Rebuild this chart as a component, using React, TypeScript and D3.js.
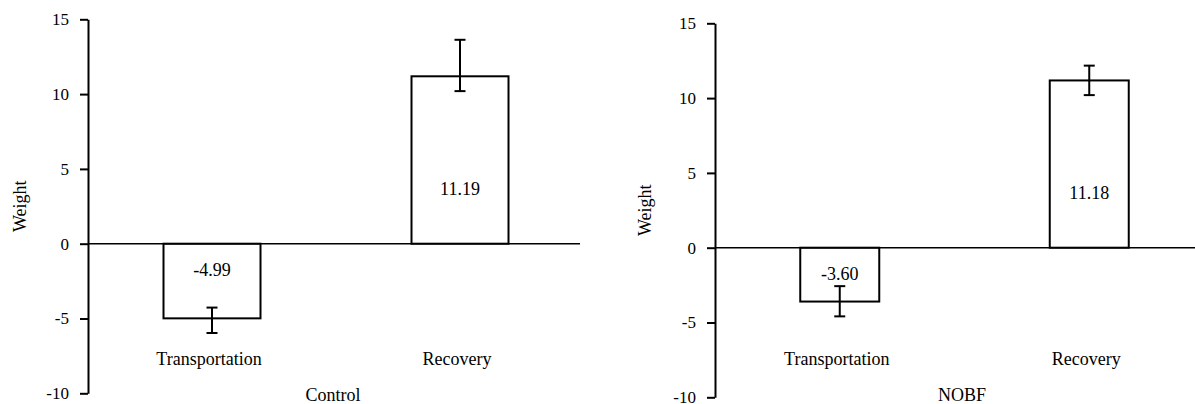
import React, { useRef, useEffect } from 'react';
import * as d3 from 'd3';

const categories = ['Transportation', 'Recovery'];

const controlValues = [-4.99, 11.19];
const controlLow = [-5.97, 10.2];
const controlHigh = [-4.27, 13.63];

const nobfValues = [-3.6, 11.18];
const nobfLow = [-4.59, 10.2];
const nobfHigh = [-2.57, 12.17];

const yTicks = [-10, -5, 0, 5, 10, 15];
const yDomain = [-10, 15];

const panels = [
  {
    title: 'Control',
    values: controlValues,
    low: controlLow,
    high: controlHigh,
    left: 88,
    right: 584,
    zeroEnd: 580,
    top: 19.3,
    bottom: 393.3,
    barWidth: 97,
    catY: 365,
    titleY: 401,
    titleX: 333,
    labelX: 20,
  },
  {
    title: 'NOBF',
    values: nobfValues,
    low: nobfLow,
    high: nobfHigh,
    left: 715,
    right: 1214,
    zeroEnd: 1195,
    top: 23.3,
    bottom: 397.3,
    barWidth: 79,
    catY: 364.5,
    titleY: 401,
    titleX: 962,
    labelX: 645,
  },
];

const FONT = 'Liberation Serif, Times New Roman, DejaVu Serif, serif';

const Chart = () => {
  const ref = useRef(null);

  useEffect(() => {
    const svg = d3.select(ref.current);
    svg.selectAll('*').remove();

    panels.forEach((p) => {
      const x = d3.scalePoint().domain(categories).range([p.left, p.right]).padding(0.5);
      const y = d3.scaleLinear().domain(yDomain).range([p.bottom, p.top]);
      const g = svg.append('g');
      const rows = categories.map((c, i) => ({ c, v: p.values[i], lo: p.low[i], hi: p.high[i] }));

      // bars
      g.selectAll('rect.bar')
        .data(rows)
        .join('rect')
        .attr('x', (d) => x(d.c) - p.barWidth / 2)
        .attr('y', (d) => y(Math.max(0, d.v)))
        .attr('width', p.barWidth)
        .attr('height', (d) => Math.abs(y(d.v) - y(0)))
        .attr('fill', '#fff')
        .attr('stroke', '#000')
        .attr('stroke-width', 2);

      // zero line
      g.append('line')
        .attr('x1', p.left)
        .attr('x2', p.zeroEnd)
        .attr('y1', y(0))
        .attr('y2', y(0))
        .attr('stroke', '#000')
        .attr('stroke-width', 1.6);

      // error bars
      const err = g.selectAll('g.err').data(rows).join('g');
      err.append('line')
        .attr('x1', (d) => x(d.c))
        .attr('x2', (d) => x(d.c))
        .attr('y1', (d) => y(d.lo))
        .attr('y2', (d) => y(d.hi))
        .attr('stroke', '#000')
        .attr('stroke-width', 2);
      ['lo', 'hi'].forEach((k) => {
        err.append('line')
          .attr('x1', (d) => x(d.c) - 5.5)
          .attr('x2', (d) => x(d.c) + 5.5)
          .attr('y1', (d) => y(d[k]))
          .attr('y2', (d) => y(d[k]))
          .attr('stroke', '#000')
          .attr('stroke-width', 2);
      });

      // value labels
      g.selectAll('text.val')
        .data(rows)
        .join('text')
        .attr('x', (d) => x(d.c))
        .attr('y', (d) => (d.v >= 0 ? y(0) - 48.5 : y(0) + 32))
        .attr('text-anchor', 'middle')
        .style('font-family', FONT)
        .style('font-size', '18px')
        .text((d) => d.v.toFixed(2));

      // category labels
      g.selectAll('text.cat')
        .data(categories)
        .join('text')
        .attr('x', (d) => x(d) - 3)
        .attr('y', p.catY)
        .attr('text-anchor', 'middle')
        .style('font-family', FONT)
        .style('font-size', '18px')
        .text((d) => d);

      g.append('text')
        .attr('x', p.titleX)
        .attr('y', p.titleY)
        .attr('text-anchor', 'middle')
        .style('font-family', FONT)
        .style('font-size', '18px')
        .text(p.title);

      // y axis
      g.append('g')
        .attr('transform', `translate(${p.left},0)`)
        .call(
          d3
            .axisLeft(y)
            .tickValues(yTicks)
            .tickFormat((d) => String(d))
            .tickSize(8)
            .tickPadding(11)
            .tickSizeOuter(0)
        )
        .call((a) => a.select('.domain').attr('stroke', '#000').attr('stroke-width', 2))
        .call((a) => a.selectAll('.tick line').attr('stroke', '#000').attr('stroke-width', 2))
        .call((a) =>
          a
            .selectAll('text')
            .attr('fill', '#000')
            .style('font-family', FONT)
            .style('font-size', '17px')
        );

      g.append('text')
        .attr('transform', `translate(${p.labelX},${(p.top + p.bottom) / 2}) rotate(-90)`)
        .attr('text-anchor', 'middle')
        .attr('dominant-baseline', 'central')
        .style('font-family', FONT)
        .style('font-size', '18px')
        .text('Weight');
    });
  }, []);

  return (
    <svg
      ref={ref}
      width={1195}
      height={404}
      style={{ position: 'absolute', left: 0, top: 0, background: '#fff' }}
    />
  );
};

export default function App() {
  return <Chart />;
}
